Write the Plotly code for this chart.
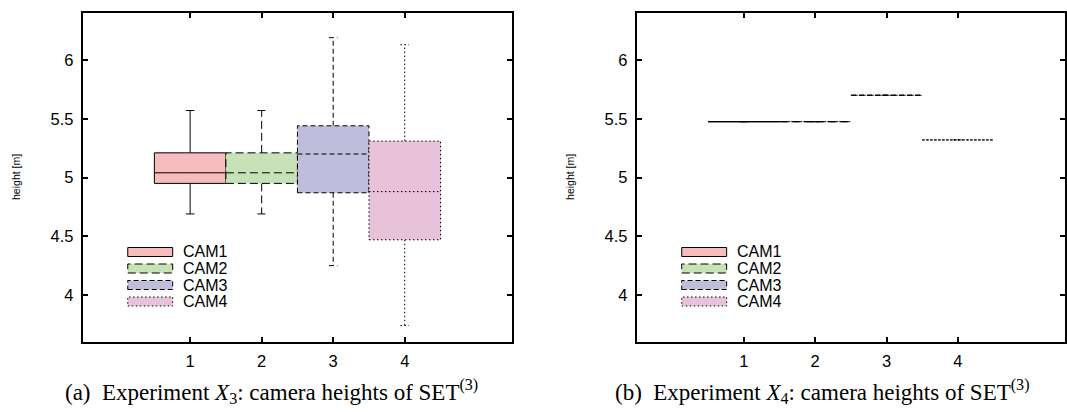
import plotly.graph_objects as go

W, H = 1067, 412

# ---------------- data ----------------
cams = ["CAM1", "CAM2", "CAM3", "CAM4"]
positions = [1, 2, 3, 4]

# Experiment X3 (left)
x3_low = [4.69, 4.69, 4.25, 3.74]
x3_q1 = [4.95, 4.95, 4.87, 4.47]
x3_med = [5.04, 5.04, 5.20, 4.88]
x3_q3 = [5.21, 5.21, 5.44, 5.31]
x3_high = [5.57, 5.57, 6.19, 6.13]

# Experiment X4 (right) - degenerate boxes
x4_low = [5.475, 5.475, 5.70, 5.32]
x4_q1 = [5.475, 5.475, 5.70, 5.32]
x4_med = [5.475, 5.475, 5.70, 5.32]
x4_q3 = [5.475, 5.475, 5.70, 5.32]
x4_high = [5.475, 5.475, 5.70, 5.32]

y_ticks = [4, 4.5, 5, 5.5, 6]
y_tick_labels = ["4", "4.5", "5", "5.5", "6"]
x_ticks = [1, 2, 3, 4]
x_tick_labels = ["1", "2", "3", "4"]

captions = [
    "(a)  Experiment <i>X</i><sub>3</sub>: camera heights of SET<sup>(3)</sup>",
    "(b)  Experiment <i>X</i><sub>4</sub>: camera heights of SET<sup>(3)</sup>",
]
y_title = "height [m]"

# ---------------- style ----------------
fills = ["#f7bcbc", "#c6e2b6", "#c0bddc", "#e8c1db"]
dashes = ["solid", "8px,4px", "5px,3px", "1.5px,2.5px"]
box_w = 1.0
cap_half = 0.06
SANS = "Liberation Sans, Arial, sans-serif"
SERIF = "Liberation Serif, Times New Roman, serif"


def px(xp):
    return xp / W


def py(yp):
    return 1 - yp / H


fig = go.Figure()

datasets = [
    (x3_low, x3_q1, x3_med, x3_q3, x3_high),
    (x4_low, x4_q1, x4_med, x4_q3, x4_high),
]
axes = [("x", "y"), ("x2", "y2")]

for (lo_a, q1_a, med_a, q3_a, hi_a), (xa, ya) in zip(datasets, axes):
    for i, p in enumerate(positions):
        lo, q1, med, q3, hi = lo_a[i], q1_a[i], med_a[i], q3_a[i], hi_a[i]
        ln = dict(color="black", width=1, dash=dashes[i])
        # whiskers
        fig.add_trace(go.Scatter(
            x=[p, p, None, p, p, None, p - cap_half, p + cap_half, None, p - cap_half, p + cap_half],
            y=[q3, hi, None, q1, lo, None, hi, hi, None, lo, lo],
            mode="lines", line=ln, xaxis=xa, yaxis=ya, showlegend=False, hoverinfo="skip"))
        # box
        fig.add_trace(go.Scatter(
            x=[p - box_w / 2, p + box_w / 2, p + box_w / 2, p - box_w / 2, p - box_w / 2],
            y=[q1, q1, q3, q3, q1],
            mode="lines", fill="toself", fillcolor=fills[i], line=ln,
            xaxis=xa, yaxis=ya, showlegend=False, name=cams[i]))
        # median
        fig.add_trace(go.Scatter(
            x=[p - box_w / 2, p + box_w / 2], y=[med, med],
            mode="lines", line=ln, xaxis=xa, yaxis=ya, showlegend=False, hoverinfo="skip"))

# frames in pixels
frames = [(83, 513), (638, 1067)]
top_px, bot_px = 13, 342

axis_common = dict(
    showline=True, linewidth=2, linecolor="black", mirror="ticks",
    ticks="inside", ticklen=5, tickwidth=1.5, tickcolor="black",
    showgrid=False, zeroline=False,
    tickfont=dict(family=SANS, size=16.5, color="black"),
)

layout = dict(
    width=W, height=H, margin=dict(l=0, r=0, t=0, b=0),
    plot_bgcolor="white", paper_bgcolor="white", showlegend=False,
)
for k, (l, r) in enumerate(frames):
    sfx = "" if k == 0 else "2"
    layout["xaxis" + sfx] = dict(
        axis_common, domain=[px(l), min(px(r), 1.0)], range=[-0.5, 5.5],
        tickvals=x_ticks, ticktext=x_tick_labels, anchor="y" + sfx, ticklabelstandoff=3)
    layout["yaxis" + sfx] = dict(
        axis_common, domain=[py(bot_px), py(top_px)], range=[3.6, 6.4],
        tickvals=y_ticks, ticktext=y_tick_labels, anchor="x" + sfx, ticklabelstandoff=4)
fig.update_layout(**layout)

shapes = []
annotations = []
row_centers = [252, 268.5, 285, 301.5]
for k, (l, r) in enumerate(frames):
    x0 = l + 45
    x1 = x0 + 45
    for i, name in enumerate(cams):
        yc = row_centers[i]
        shapes.append(dict(
            type="rect", xref="paper", yref="paper",
            x0=px(x0), x1=px(x1), y0=py(yc + 4.5), y1=py(yc - 4.5),
            fillcolor=fills[i], line=dict(color="black", width=1, dash=dashes[i])))
        annotations.append(dict(
            xref="paper", yref="paper", x=px(x1 + 8), y=py(yc), xanchor="left", yanchor="middle",
            text=name, showarrow=False,
            font=dict(family=SANS, size=16, color="black")))
    # y-axis title
    annotations.append(dict(
        xref="paper", yref="paper", x=px(l - 67), y=py(177), xanchor="center", yanchor="middle",
        text=y_title, textangle=-90, showarrow=False,
        font=dict(family=SANS, size=10.5, color="black")))

cap_centers = [272, 824]
for k, txt in enumerate(captions):
    annotations.append(dict(
        xref="paper", yref="paper", x=px(cap_centers[k]), y=py(391), xanchor="center", yanchor="middle",
        text=txt, showarrow=False,
        font=dict(family=SERIF, size=23, color="black")))

fig.update_layout(shapes=shapes, annotations=annotations)
fig.write_html("out.html", config={"displayModeBar": False},
               post_script="document.body.style.margin='0';document.body.style.overflow='hidden';")
